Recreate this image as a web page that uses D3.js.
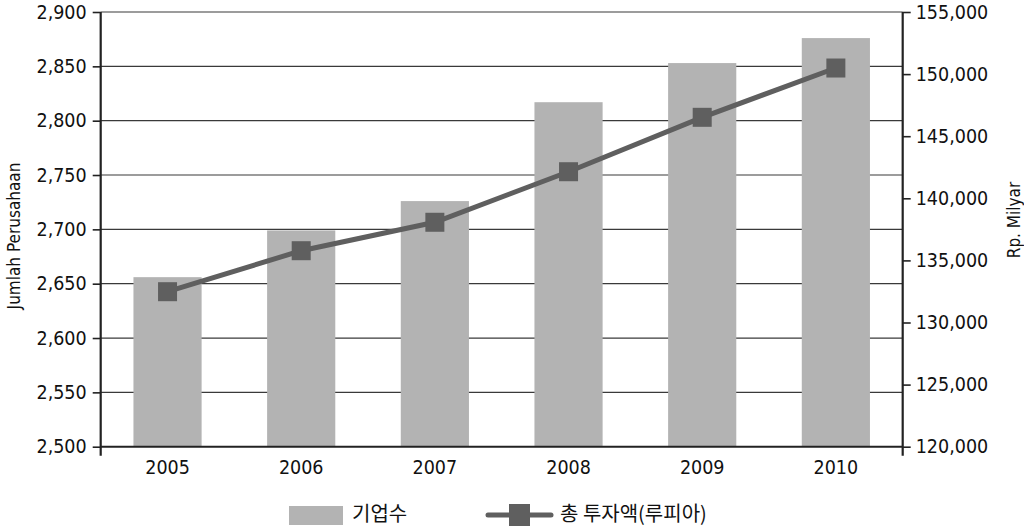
<!DOCTYPE html>
<html>
<head>
<meta charset="utf-8">
<script src="https://cdn.jsdelivr.net/npm/d3@7"></script>
<style>
  html, body { margin: 0; padding: 0; background: #fff; }
  svg text { font-family: "Liberation Sans Narrow", "DejaVu Sans Condensed", sans-serif; fill: #111; }
  .kr { font-family: "Noto Sans CJK KR", sans-serif; }
</style>
</head>
<body>
<svg id="chart" width="1024" height="527"></svg>
<script>
const years = ["2005", "2006", "2007", "2008", "2009", "2010"];
const companies = [2656, 2699, 2726, 2817, 2853, 2876];
const investment = [132480, 135780, 138070, 142140, 146520, 150490];
const leftTicks = [2500, 2550, 2600, 2650, 2700, 2750, 2800, 2850, 2900];
const rightTicks = [120000, 125000, 130000, 135000, 140000, 145000, 150000, 155000];
const leftTitle = "Jumlah Perusahaan";
const rightTitle = "Rp. Milyar";
const legendLabels = ["기업수", "총 투자액(루피아)"];

const svg = d3.select("#chart");
const m = { left: 100.7, right: 902.7, top: 12, bottom: 446.7 };

const x = d3.scaleBand().domain(years).range([m.left, m.right]).paddingInner(0.49).paddingOuter(0.245);
const yL = d3.scaleLinear().domain([2500, 2900]).range([m.bottom, m.top]);
const yR = d3.scaleLinear().domain([120000, 155000]).range([m.bottom, m.top]);

const barColor = "#b3b3b3";
const lineColor = "#5f5f5f";

// gridlines
svg.append("g").selectAll("line").data(leftTicks.slice(1)).join("line")
  .attr("x1", m.left).attr("x2", m.right)
  .attr("y1", d => yL(d)).attr("y2", d => yL(d))
  .attr("stroke", "#3a3a3a").attr("stroke-width", 1.2);

// bars
svg.append("g").selectAll("rect").data(companies).join("rect")
  .attr("x", (d, i) => x(years[i]))
  .attr("width", x.bandwidth())
  .attr("y", d => yL(d))
  .attr("height", d => yL(2500) - yL(d))
  .attr("fill", barColor);

// line
const cx = (i) => x(years[i]) + x.bandwidth() / 2;
svg.append("path")
  .datum(investment)
  .attr("d", d3.line().x((d, i) => cx(i)).y(d => yR(d)))
  .attr("fill", "none").attr("stroke", lineColor).attr("stroke-width", 5);
const ms = 19;
svg.append("g").selectAll("rect").data(investment).join("rect")
  .attr("x", (d, i) => cx(i) - ms / 2).attr("y", d => yR(d) - ms / 2)
  .attr("width", ms).attr("height", ms).attr("fill", lineColor);

// axes
const axL = svg.append("g").attr("transform", `translate(${m.left},0)`)
  .call(d3.axisLeft(yL).tickValues(leftTicks).tickFormat(d3.format(",")).tickSize(8).tickPadding(6));
const axR = svg.append("g").attr("transform", `translate(${m.right},0)`)
  .call(d3.axisRight(yR).tickValues(rightTicks).tickFormat(d3.format(",")).tickSize(8).tickPadding(5));
const axB = svg.append("g").attr("transform", `translate(0,${m.bottom})`)
  .call(d3.axisBottom(x).tickSize(0).tickPadding(13));
[axL, axR].forEach(a => {
  a.select(".domain").attr("stroke", "#222").attr("stroke-width", 2.2)
    .attr("d", `M0,${m.top}V${m.bottom + 9}`);
  a.selectAll(".tick line").attr("stroke", "#222").attr("stroke-width", 1.6);
  a.selectAll("text").attr("font-size", 19.5).attr("fill", "#111")
    .style("font-family", '"Liberation Sans Narrow", "DejaVu Sans Condensed", sans-serif');
});
axB.select(".domain").attr("stroke", "#222").attr("stroke-width", 2).attr("d", `M${m.left},0H${m.right}`);
axB.selectAll("text").attr("font-size", 19.5).attr("fill", "#111")
  .style("font-family", '"Liberation Sans Narrow", "DejaVu Sans Condensed", sans-serif');

// titles
svg.append("text").attr("transform", "translate(20,236) rotate(-90)")
  .attr("text-anchor", "middle").attr("font-size", 17).text(leftTitle);
svg.append("text").attr("transform", "translate(1020,220) rotate(-90)")
  .attr("text-anchor", "middle").attr("font-size", 17).text(rightTitle);

// legend
const lg = svg.append("g");
lg.append("rect").attr("x", 289).attr("y", 506).attr("width", 54).attr("height", 19).attr("fill", barColor);
lg.append("text").attr("class", "kr").attr("x", 352).attr("y", 521).attr("font-size", 20).text(legendLabels[0]);
lg.append("line").attr("x1", 488).attr("x2", 551).attr("y1", 515).attr("y2", 515)
  .attr("stroke", lineColor).attr("stroke-width", 5).attr("stroke-linecap", "round");
lg.append("rect").attr("x", 509).attr("y", 504).attr("width", 21).attr("height", 22).attr("fill", lineColor);
lg.append("text").attr("class", "kr").attr("x", 560).attr("y", 521).attr("font-size", 20).text(legendLabels[1]);
</script>
</body>
</html>
